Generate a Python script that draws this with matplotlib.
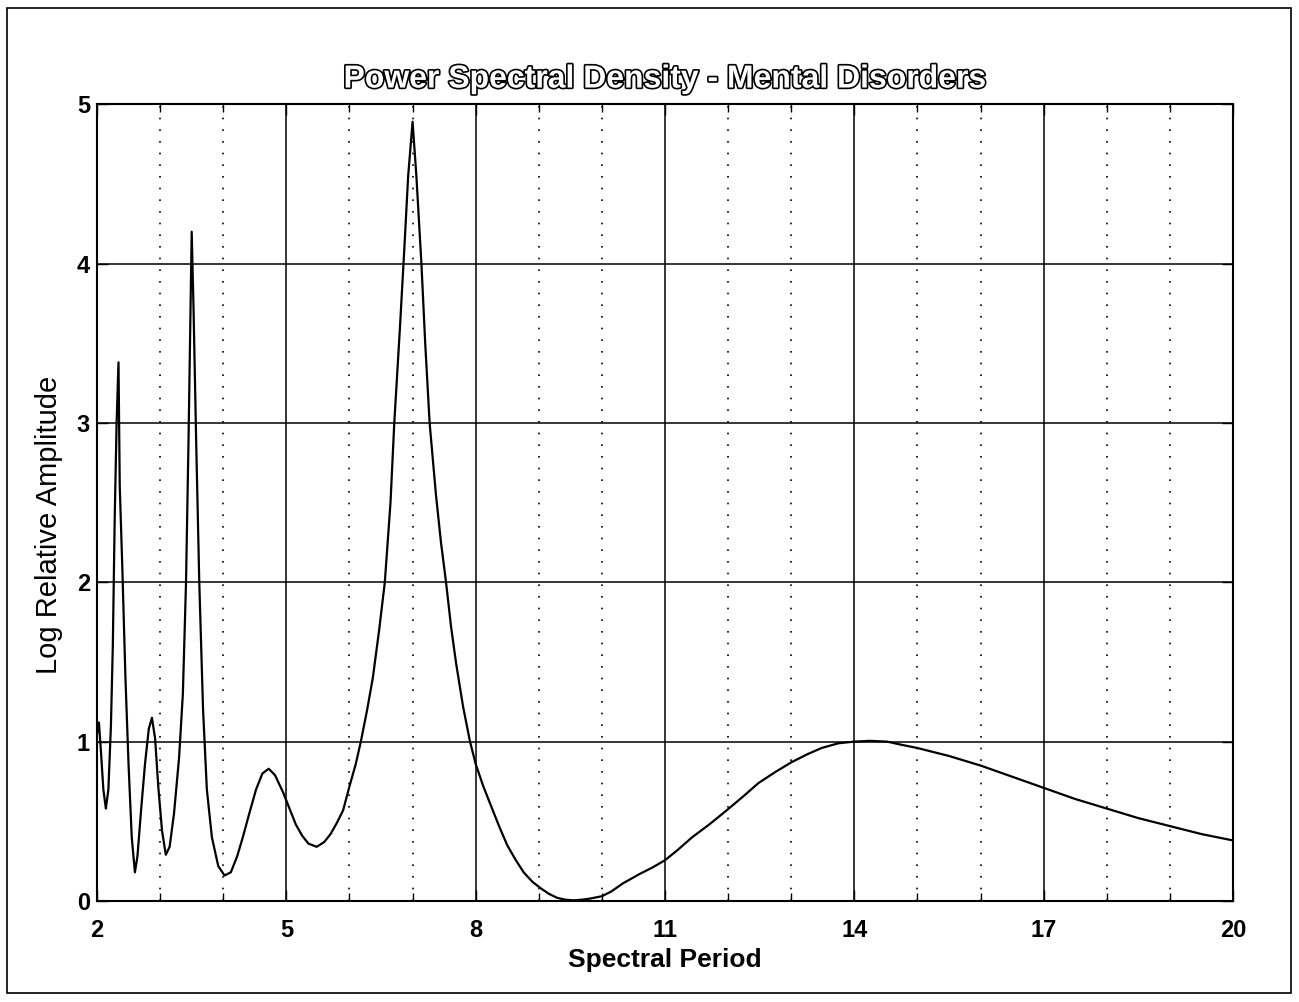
"""Power spectral density plot - mental disorders (scanned MATLAB-style figure)."""
import numpy as np
import matplotlib.pyplot as plt
from matplotlib import patheffects
from matplotlib.patches import Rectangle

plt.rcParams['font.family'] = ['Liberation Sans', 'DejaVu Sans']

# spectral period vs log relative amplitude
period = [2.00, 2.03, 2.06, 2.10, 2.14, 2.18, 2.22, 2.25, 2.28, 2.31, 2.34,
          2.36, 2.40, 2.45, 2.50, 2.55, 2.60, 2.64, 2.70, 2.76, 2.82, 2.87,
          2.92, 2.97, 3.03, 3.09, 3.15, 3.22, 3.30, 3.36, 3.41, 3.45, 3.48,
          3.50, 3.53, 3.57, 3.62, 3.68, 3.74, 3.82, 3.92, 4.02, 4.12, 4.22,
          4.31, 4.42, 4.52, 4.62, 4.72, 4.82, 4.95, 5.05, 5.15, 5.25, 5.35,
          5.48, 5.60, 5.70, 5.80, 5.90, 6.00, 6.10, 6.18, 6.28, 6.37, 6.47,
          6.56, 6.65, 6.71, 6.80, 6.87, 6.93, 7.00, 7.06, 7.14, 7.20, 7.27,
          7.37, 7.45, 7.53, 7.61, 7.69, 7.80, 7.91, 8.00, 8.12, 8.24, 8.37,
          8.50, 8.63, 8.76, 8.90, 9.03, 9.16, 9.29, 9.42, 9.55, 9.68, 9.81,
          10.00, 10.15, 10.33, 10.60, 10.80, 11.00, 11.20, 11.43, 11.70,
          11.98, 12.25, 12.48, 12.75, 13.00, 13.25, 13.48, 13.75, 14.00,
          14.25, 14.52, 14.75, 15.00, 15.50, 16.00, 16.50, 17.00, 17.50,
          18.00, 18.50, 19.00, 19.50, 20.00]
log_amp = [1.05, 1.12, 0.95, 0.70, 0.58, 0.70, 1.10, 1.60, 2.40, 3.00, 3.38,
           2.60, 2.10, 1.40, 0.85, 0.40, 0.18, 0.28, 0.58, 0.86, 1.08, 1.15,
           1.02, 0.72, 0.44, 0.29, 0.34, 0.55, 0.90, 1.30, 2.00, 2.90, 3.70,
           4.20, 3.70, 2.90, 2.00, 1.20, 0.70, 0.40, 0.22, 0.16, 0.18, 0.28,
           0.40, 0.56, 0.70, 0.80, 0.83, 0.79, 0.68, 0.58, 0.48, 0.41, 0.36,
           0.34, 0.37, 0.42, 0.49, 0.57, 0.72, 0.86, 1.00, 1.20, 1.40, 1.70,
           2.00, 2.50, 3.00, 3.60, 4.10, 4.55, 4.89, 4.55, 4.00, 3.50, 3.00,
           2.55, 2.25, 2.00, 1.72, 1.49, 1.22, 1.00, 0.86, 0.72, 0.60, 0.47,
           0.35, 0.26, 0.18, 0.12, 0.08, 0.045, 0.02, 0.008, 0.004, 0.008, 0.015,
           0.03, 0.06, 0.11, 0.17, 0.21, 0.256, 0.32, 0.40, 0.48,
           0.57, 0.66, 0.74, 0.81, 0.87, 0.92, 0.96, 0.99, 1.00,
           1.005, 1.00, 0.98, 0.96, 0.91, 0.85, 0.78, 0.71, 0.64,
           0.58, 0.52, 0.47, 0.42, 0.38]

major_x = [2, 5, 8, 11, 14, 17, 20]
minor_x = list(range(2, 21))
y_ticks = [0, 1, 2, 3, 4, 5]

fig = plt.figure(figsize=(12.99, 10.02), dpi=100)
ax = fig.add_axes([0.0747, 0.1008, 0.8745, 0.7952])

ax.plot(period, log_amp, color="black", linewidth=1.6)

ax.set_xlim(2, 20)
ax.set_ylim(0, 5)
ax.set_xticks(major_x)
ax.set_xticks(minor_x, minor=True)
ax.set_yticks(y_ticks)
ax.set_xticklabels([str(v) for v in major_x], fontsize=17, fontweight="bold")
ax.set_yticklabels([str(v) for v in y_ticks], fontsize=17, fontweight="bold")

# MATLAB-ish grid: solid on major, dotted on minor x
ax.grid(True, which="major", color="black", linestyle="-", linewidth=1.1)
ax.grid(True, which="minor", axis="x", color="black",
        linestyle=(0, (1, 6)), linewidth=1.2)
ax.tick_params(which="both", direction="in", top=True, right=True,
               length=8, width=1)
ax.tick_params(which="minor", length=6)
ax.tick_params(axis="x", pad=13)
ax.tick_params(axis="y", pad=5)
for s in ax.spines.values():
    s.set_linewidth(1.5)

ax.set_xlabel("Spectral Period", fontsize=19, fontweight="bold", labelpad=4)
ax.set_ylabel("Log Relative Amplitude", fontsize=21)
ax.yaxis.set_label_coords(-0.030, 0.472)
ax.set_title("Power Spectral Density - Mental Disorders", fontsize=23,
             fontweight="bold", color="white", pad=12,
             path_effects=[patheffects.withStroke(linewidth=2.4,
                                                  foreground="black")])

# page frame from the scan
fig.add_artist(Rectangle((7 / 1299, 9 / 1002), 1284 / 1299, 985 / 1002,
                         transform=fig.transFigure, fill=False,
                         edgecolor="black", linewidth=1.2))

fig.savefig("out.png", dpi=100)
